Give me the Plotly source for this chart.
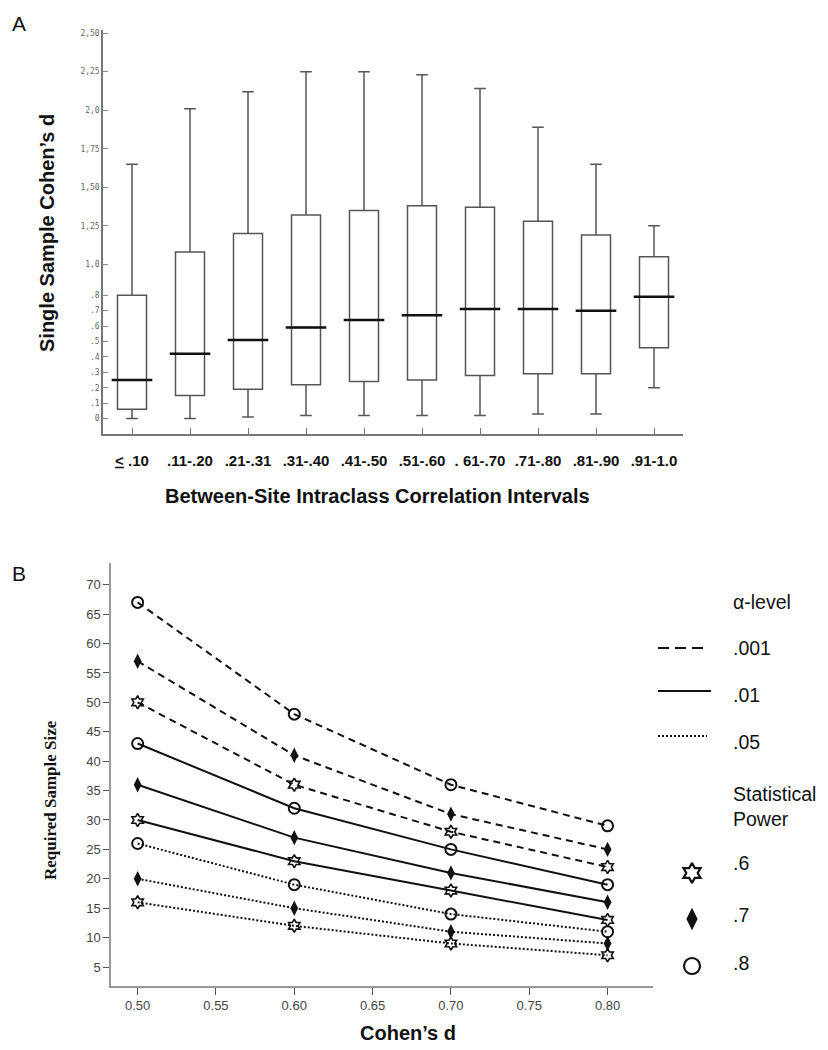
import plotly.graph_objects as go

# the page body adds an 8px margin, so the figure is 8px smaller than the window
W, H = 828, 1050
OFF = 8
FW, FH = W - OFF, H - OFF

# ------------------------------------------------------------
# Panel A data: box summaries
# ------------------------------------------------------------
icc_intervals = ['<span style="text-decoration:underline">&lt;</span> .10', ".11-.20", ".21-.31",
                 ".31-.40", ".41-.50", ".51-.60", ". 61-.70", ".71-.80", ".81-.90", ".91-1.0"]
d_lower = [0.00, 0.00, 0.01, 0.02, 0.02, 0.02, 0.02, 0.03, 0.03, 0.20]
d_q1 = [0.06, 0.15, 0.19, 0.22, 0.24, 0.25, 0.28, 0.29, 0.29, 0.46]
d_median = [0.25, 0.42, 0.51, 0.59, 0.64, 0.67, 0.71, 0.71, 0.70, 0.79]
d_q3 = [0.80, 1.08, 1.20, 1.32, 1.35, 1.38, 1.37, 1.28, 1.19, 1.05]
d_upper = [1.65, 2.01, 2.12, 2.25, 2.25, 2.23, 2.14, 1.89, 1.65, 1.25]

a_tickvals = [0, 0.1, 0.2, 0.3, 0.4, 0.5, 0.6, 0.7, 0.8, 1.0, 1.25, 1.5, 1.75, 2.0, 2.25, 2.5]
a_ticktext = ["0", ".1", ".2", ".3", ".4", ".5", ".6", ".7", ".8",
              "1,0", "1,25", "1,50", "1,75", "2,0", "2,25", "2,50"]

# ------------------------------------------------------------
# Panel B data: required sample size by Cohen's d
# ------------------------------------------------------------
cohens_d = [0.50, 0.60, 0.70, 0.80]
alpha_levels = [".001", ".01", ".05"]
power_levels = [".6", ".7", ".8"]
sample_size = {
    (".001", ".8"): [67, 48, 36, 29],
    (".001", ".7"): [57, 41, 31, 25],
    (".001", ".6"): [50, 36, 28, 22],
    (".01", ".8"): [43, 32, 25, 19],
    (".01", ".7"): [36, 27, 21, 16],
    (".01", ".6"): [30, 23, 18, 13],
    (".05", ".8"): [26, 19, 14, 11],
    (".05", ".7"): [20, 15, 11, 9],
    (".05", ".6"): [16, 12, 9, 7],
}

line_dash = {".001": "7px,5px", ".01": "solid", ".05": "2px,2px"}
marker_style = {
    ".6": dict(symbol="hexagram-open", size=10, color="#111", line=dict(width=1.6, color="#111")),
    ".7": dict(symbol="diamond-tall", size=11, color="#111", line=dict(width=0)),
    ".8": dict(symbol="circle-open", size=11, color="#111", line=dict(width=2, color="#111")),
}


def px(x):
    return (x - OFF) / FW


def py(y):
    return 1 - (y - OFF) / FH


fig = go.Figure()

# ---------------- Panel A ----------------
fig.add_trace(go.Box(
    x=icc_intervals, lowerfence=d_lower, q1=d_q1, median=d_median, q3=d_q3,
    upperfence=d_upper, boxpoints=False, width=0.5, whiskerwidth=0.4,
    fillcolor="white", line=dict(color="#555", width=1.5),
    xaxis="x", yaxis="y", showlegend=False, hoverinfo="skip"
))
fig.add_trace(go.Scatter(
    x=icc_intervals, y=d_median, mode="markers",
    marker=dict(symbol="line-ew", size=29, line=dict(width=2.5, color="#111")),
    xaxis="x", yaxis="y", showlegend=False, hoverinfo="skip"
))

# ---------------- Panel B ----------------
for a in alpha_levels:
    for p in power_levels:
        fig.add_trace(go.Scatter(
            x=cohens_d, y=sample_size[(a, p)], mode="lines+markers",
            line=dict(color="#111", width=2, dash=line_dash[a]),
            marker=marker_style[p],
            xaxis="x2", yaxis="y2", showlegend=False
        ))

# legend markers (power) on a pixel-space overlay axis
legend_marker_y = {".6": 873, ".7": 919, ".8": 966}
for p in power_levels:
    ms = dict(marker_style[p])
    ms["size"] = ms["size"] + 5
    if ms["line"].get("width", 0):
        ms["line"] = dict(width=2.2, color="#111")
    fig.add_trace(go.Scatter(
        x=[692], y=[legend_marker_y[p]], mode="markers", marker=ms,
        xaxis="x3", yaxis="y3", showlegend=False, hoverinfo="skip"
    ))

shapes = []
legend_line_y = {".001": 648, ".01": 691, ".05": 736}
legend_line_x1 = {".001": 705, ".01": 711, ".05": 707}
legend_line_dash = {".001": "11px,6px", ".01": "solid", ".05": "2px,2px"}
for a in alpha_levels:
    shapes.append(dict(type="line", xref="paper", yref="paper",
                       x0=px(658), x1=px(legend_line_x1[a]),
                       y0=py(legend_line_y[a]), y1=py(legend_line_y[a]),
                       line=dict(color="#111", width=2, dash=legend_line_dash[a])))

annotations = []


def note(text, x, y, size, weight="normal", family="Arial, Liberation Sans, sans-serif",
         xanchor="center", angle=0, color="#111", align="center"):
    annotations.append(dict(text=text, x=px(x), y=py(y), xref="paper", yref="paper",
                            showarrow=False, xanchor=xanchor, yanchor="middle",
                            textangle=angle, align=align,
                            font=dict(size=size, family=family, weight=weight, color=color)))


note("A", 10, 24, 21, xanchor="left")
note("B", 10, 573, 21, xanchor="left")
note("Single Sample Cohen’s d", 47, 233, 20, weight="bold", angle=-90)
note("Between-Site Intraclass Correlation Intervals", 377, 496, 20, weight="bold")
note("Required Sample Size", 50, 800, 17, weight="bold",
     family="Liberation Serif, Times New Roman, serif", angle=-90)
note("Cohen’s d", 408, 1033, 20, weight="bold")

note("α-level", 731, 602, 19.5, xanchor="left")
legend_text_y = {".001": 648, ".01": 695, ".05": 742}
for a in alpha_levels:
    note(a, 731, legend_text_y[a], 19.5, xanchor="left")
note("Statistical<br>Power", 731, 806, 19.5, xanchor="left", align="left")
legend_ptext_y = {".6": 863, ".7": 915, ".8": 963}
for p in power_levels:
    note(p, 731, legend_ptext_y[p], 19.5, xanchor="left")

fig.update_layout(
    width=FW, height=FH,
    margin=dict(l=0, r=0, t=0, b=0),
    paper_bgcolor="white", plot_bgcolor="rgba(0,0,0,0)",
    shapes=shapes, annotations=annotations,
    xaxis=dict(domain=[px(103), px(683)], anchor="y", type="category",
               range=[-0.5, 9.5], showline=True, linecolor="#777", linewidth=1.5,
               ticks="inside", ticklen=6, tickcolor="#777", showgrid=False, zeroline=False,
               ticklabelstandoff=12,
               tickfont=dict(size=15, family="Arial, Liberation Sans, sans-serif",
                             weight="bold", color="#111")),
    yaxis=dict(domain=[py(434), py(30)], anchor="x", range=[-0.1, 2.52],
               tickvals=a_tickvals, ticktext=a_ticktext,
               showline=True, linecolor="#777", linewidth=1.5,
               ticks="inside", ticklen=5, tickcolor="#888", showgrid=False, zeroline=False,
               tickfont=dict(size=8, family="DejaVu Sans Mono, monospace", color="#666")),
    xaxis2=dict(domain=[px(111), px(653)], anchor="y2", range=[0.483, 0.829],
                tickvals=[0.50, 0.55, 0.60, 0.65, 0.70, 0.75, 0.80], tickformat=".2f",
                showline=True, linecolor="#999", linewidth=1.5,
                ticks="outside", ticklen=7, tickcolor="#555", showgrid=False, zeroline=False,
                tickfont=dict(size=13, family="Arial, Liberation Sans, sans-serif", color="#444")),
    yaxis2=dict(domain=[py(986), py(563)], anchor="x2", range=[1.77, 73.7],
                tickvals=list(range(5, 75, 5)),
                showline=True, linecolor="#999", linewidth=1.5,
                ticks="outside", ticklen=6, tickcolor="#555", showgrid=False, zeroline=False,
                tickfont=dict(size=13, family="Arial, Liberation Sans, sans-serif", color="#444")),
    xaxis3=dict(domain=[0, 1], anchor="y3", range=[OFF, W], visible=False),
    yaxis3=dict(domain=[0, 1], anchor="x3", range=[H, OFF], visible=False),
)

fig.write_html("out.html")
